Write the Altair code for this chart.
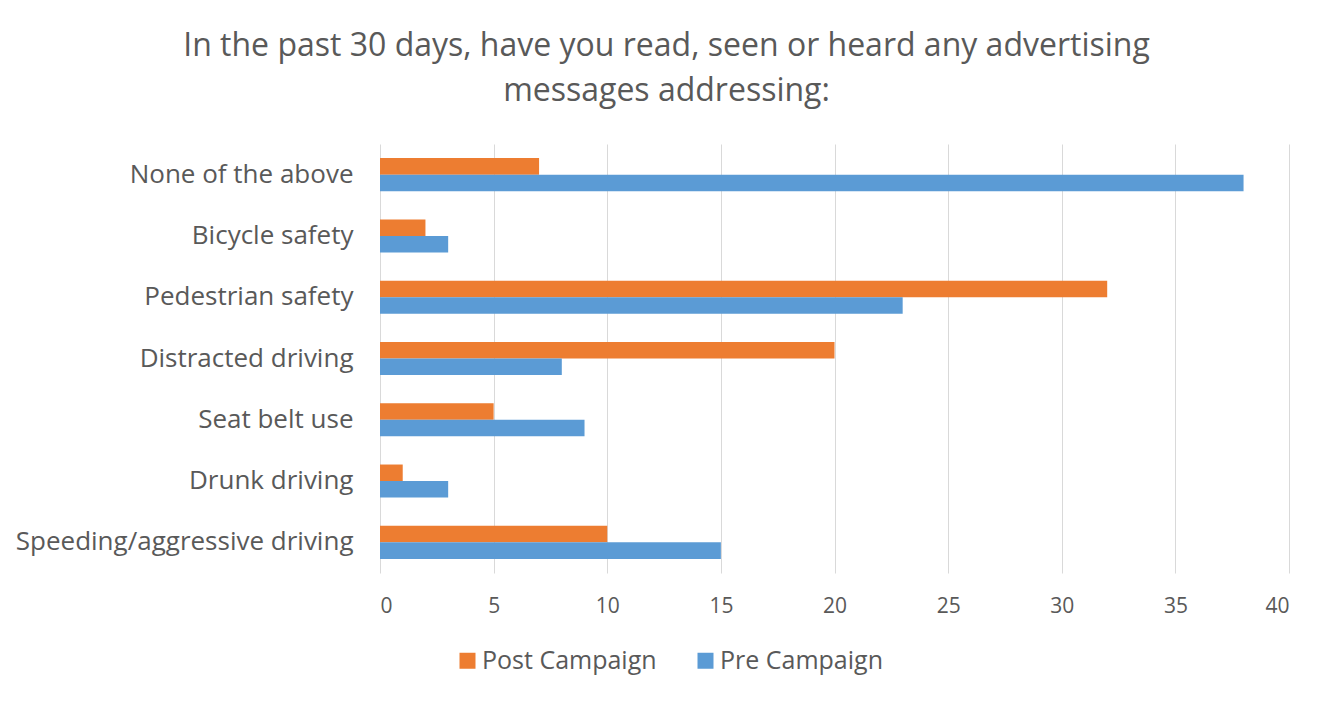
import altair as alt
import pandas as pd

categories = ["None of the above", "Bicycle safety", "Pedestrian safety",
              "Distracted driving", "Seat belt use", "Drunk driving",
              "Speeding/aggressive driving"]
post_campaign = [7, 2, 32, 20, 5, 1, 10]
pre_campaign = [38, 3, 23, 8, 9, 3, 15]
series = ["Post Campaign", "Pre Campaign"]
x_ticks = [0, 5, 10, 15, 20, 25, 30, 35, 40]

rows = []
for c, v in zip(categories, post_campaign):
    rows.append({"category": c, "series": series[0], "value": v})
for c, v in zip(categories, pre_campaign):
    rows.append({"category": c, "series": series[1], "value": v})
df = pd.DataFrame(rows)

TXT = "#595959"
FONT = "Open Sans"

chart = alt.Chart(df).mark_bar().encode(
    x=alt.X("value:Q", scale=alt.Scale(domain=[0, 40], nice=False),
            axis=alt.Axis(values=x_ticks, title=None, grid=True, gridColor="#D9D9D9",
                          domain=False, ticks=False, labelPadding=22, labelFontSize=21,
                          labelColor=TXT, labelFont=FONT)),
    y=alt.Y("category:N", sort=categories,
            scale=alt.Scale(paddingInner=0.46, paddingOuter=0.23),
            axis=alt.Axis(title=None, domain=False, ticks=False, labelPadding=27,
                          labelFontSize=26, labelColor=TXT, labelFont=FONT,
                          labelLimit=400)),
    yOffset=alt.YOffset("series:N", sort=series),
    color=alt.Color("series:N", sort=series,
                    scale=alt.Scale(domain=series, range=["#ED7D31", "#5B9BD5"]),
                    legend=alt.Legend(title=None, orient="none", direction="horizontal",
                                      legendX=75, legendY=504, symbolType="square",
                                      symbolSize=256, symbolStrokeWidth=0,
                                      labelFontSize=25, labelColor=TXT, labelFont=FONT,
                                      labelOffset=2, columnPadding=36, labelLimit=400)),
).properties(
    width=909,
    height=429,
    title=alt.TitleParams(
        text=["In the past 30 days, have you read, seen or heard any advertising",
              "messages addressing:"],
        fontSize=32, font=FONT, color=TXT, fontWeight="normal",
        anchor="middle", dx=-168, offset=36, lineHeight=45),
    autosize=alt.AutoSizeParams(type="none"),
    padding={"left": 372, "top": 136, "right": 24, "bottom": 115},
).configure(background="white").configure_view(stroke="transparent", strokeWidth=0)

chart.save("out.html", embed_options={"renderer": "svg", "actions": False})
